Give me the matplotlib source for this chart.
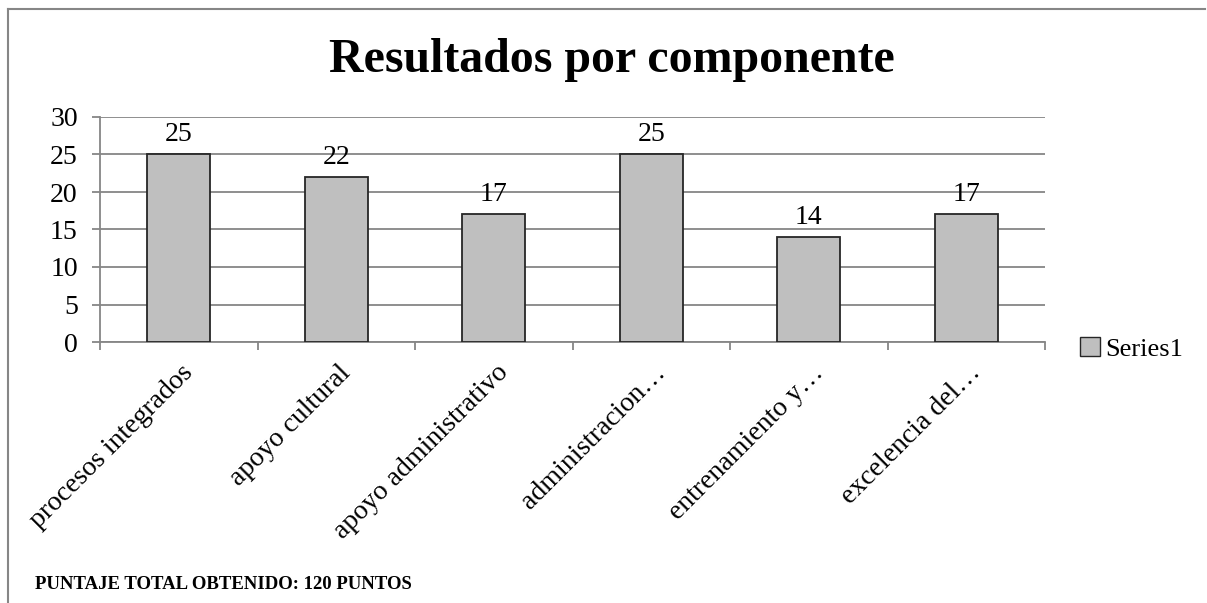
import matplotlib.pyplot as plt
from matplotlib.lines import Line2D
from matplotlib.patches import Patch

categorias = ["procesos integrados", "apoyo cultural", "apoyo administrativo",
              "administracion…", "entrenamiento y…", "excelencia del…"]
valores = [25, 22, 17, 25, 14, 17]
serie = "Series1"
total_texto = "PUNTAJE TOTAL OBTENIDO: 120 PUNTOS"

plt.rcParams['font.family'] = ['Liberation Serif', 'DejaVu Serif']

fig = plt.figure(figsize=(12.07, 6.03), dpi=100)
ax = fig.add_axes([100 / 1207, 1 - 342 / 603, 945 / 1207, 225 / 603])

x = range(len(categorias))
bars = ax.bar(x, valores, width=0.4, color='#BFBFBF', edgecolor='#262626',
              linewidth=1.3, zorder=3)
for b, v in zip(bars, valores):
    ax.text(b.get_x() + b.get_width() / 2, v + 1.0, str(v), ha='center',
            va='bottom', fontsize=20, zorder=4)

ax.set_xlim(-0.5, len(categorias) - 0.5)
ax.set_ylim(0, 30)
ax.set_yticks(range(0, 31, 5))
ax.yaxis.grid(True, color='#868686', linewidth=1.3, zorder=0)
ax.tick_params(axis='y', labelsize=20, length=6, color='#868686', width=1.3, pad=10)

# ticks en los limites de cada categoria, etiquetas giradas a mano
ax.set_xticks([i - 0.5 for i in range(len(categorias) + 1)])
ax.set_xticklabels([])
ax.tick_params(axis='x', length=6, color='#868686', width=1.3)
for i, c in enumerate(categorias):
    ax.text(i + 0.07, -3.6, c, rotation=45, rotation_mode='anchor', ha='right',
            va='center', fontsize=20)

for s in ['top', 'right']:
    ax.spines[s].set_visible(False)
for s in ['left', 'bottom']:
    ax.spines[s].set_color('#868686')
    ax.spines[s].set_linewidth(1.3)

fig.legend(handles=[Patch(facecolor='#BFBFBF', edgecolor='#262626', label=serie)],
           loc='center left', bbox_to_anchor=(1080 / 1207, 1 - 349 / 603),
           frameon=False, fontsize=19, handlelength=0.75, handleheight=0.75,
           handletextpad=0.2, borderpad=0, borderaxespad=0)

fig.text(612 / 1207, 1 - 60 / 603, "Resultados por componente", ha='center',
         va='center', fontsize=34.5, fontweight='bold')
fig.text(35 / 1207, 1 - 589 / 603, total_texto, ha='left', va='baseline',
         fontsize=13.5, fontweight='bold')

# marco del grafico (solo arriba e izquierda visibles)
fig.add_artist(Line2D([8 / 1207, 1205 / 1207], [1 - 9 / 603, 1 - 9 / 603],
                      color='#868686', linewidth=1.5, transform=fig.transFigure))
fig.add_artist(Line2D([8 / 1207, 8 / 1207], [1 - 9 / 603, 0],
                      color='#868686', linewidth=1.5, transform=fig.transFigure))

fig.savefig("out.png", dpi=100)
